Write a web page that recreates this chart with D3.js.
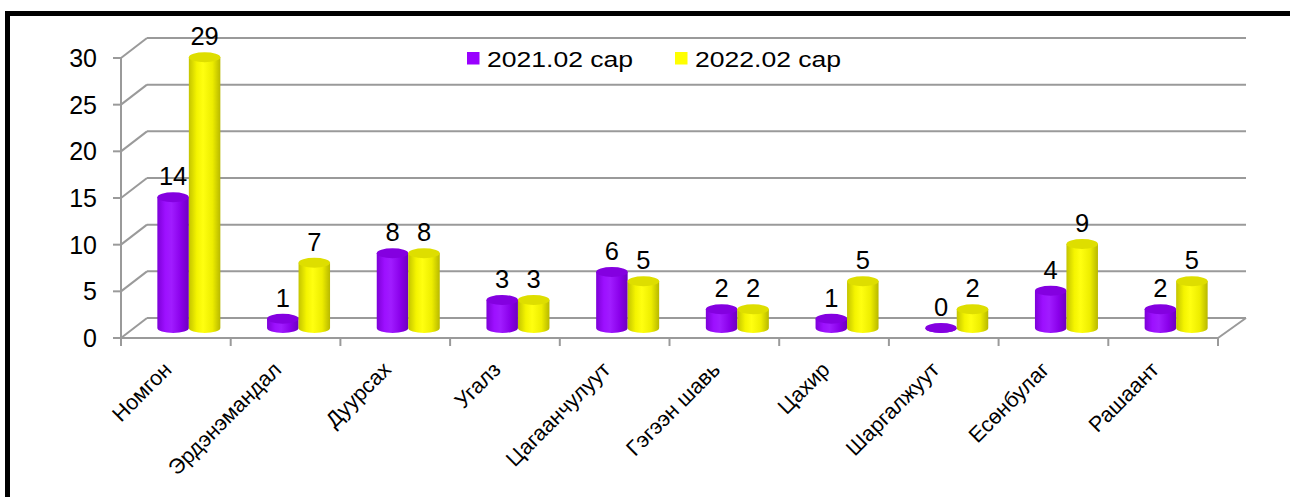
<!DOCTYPE html>
<html>
<head>
<meta charset="utf-8">
<script src="https://cdn.jsdelivr.net/npm/d3@7"></script>
<style>
  body { margin: 0; background: #fff; }
  text { font-family: Arial, "Liberation Sans", sans-serif; fill: #000; }
</style>
</head>
<body>
<div id="chart"></div>
<script>
(function(){
    //data
    var categories = ['Номгон', 'Эрдэнэмандал', 'Дуурсах', 'Угалз', 'Цагаанчулуут',
		      'Гэгээн шавь', 'Цахир', 'Шаргалжуут', 'Есөнбулаг', 'Рашаант'];
    var series_names = ['2021.02 сар', '2022.02 сар'];
    var values_2021 = [14, 1, 8, 3, 6, 2, 1, 0, 4, 2];
    var values_2022 = [29, 7, 8, 3, 5, 2, 5, 2, 9, 5];
    var y_ticks = [0, 5, 10, 15, 20, 25, 30];

    var width = 1290, height = 497;
    var depth_x = 26, depth_y = -20;   // front plane -> back wall
    var ry = 5;                         // cylinder cap radius (y)
    var grid_color = '#9a9a9a';

    var series = [
	{name : series_names[0], values : values_2021,
	 stops : ['#7d00d8', '#9d10ff', '#a01cff', '#8a00ea', '#6e00c0'], cap : '#8400e0', key : '#9900ff'},
	{name : series_names[1], values : values_2022,
	 stops : ['#c4c400', '#f4f400', '#ffff10', '#eded00', '#b8b800'], cap : '#dede00', key : '#ffff00'}
    ];

    var svg = d3.select('#chart').append('svg')
	.attr('width', width)
	.attr('height', height);

    //scales (front plane)
    var x = d3.scaleBand().domain(categories).range([121, 1218]).padding(0);
    var y = d3.scaleLinear().domain([0, 30]).range([338, 58]);
    var xs = d3.scaleBand().domain(series_names).range([-31.5, 31.5]).padding(0);

    //gradients
    var defs = svg.append('defs');
    var grad = defs.selectAll('linearGradient').data(series).enter()
	.append('linearGradient')
	.attr('id', function(d, i){ return 'cyl' + i; })
	.attr('x1', 0).attr('x2', 1).attr('y1', 0).attr('y2', 0);
    grad.selectAll('stop').data(function(d){ return d.stops; }).enter()
	.append('stop')
	.attr('offset', function(d, i){ return [0, 0.25, 0.45, 0.75, 1][i]; })
	.attr('stop-color', function(d){ return d; });

    //walls
    var walls = svg.append('g')
	.attr('fill', 'none')
	.attr('stroke', grid_color)
	.attr('stroke-width', 2);
    // back wall gridlines
    walls.selectAll('line.grid').data(y_ticks).enter().append('line')
	.attr('class', 'grid')
	.attr('x1', x.range()[0] + depth_x).attr('x2', x.range()[1] + depth_x + 2)
	.attr('y1', function(d){ return y(d) + depth_y; })
	.attr('y2', function(d){ return y(d) + depth_y; });
    // side wall diagonals
    walls.selectAll('line.side').data(y_ticks).enter().append('line')
	.attr('class', 'side')
	.attr('x1', x.range()[0]).attr('x2', x.range()[0] + depth_x)
	.attr('y1', function(d){ return y(d); })
	.attr('y2', function(d){ return y(d) + depth_y; });
    // y axis + ticks
    walls.append('line')
	.attr('x1', x.range()[0]).attr('x2', x.range()[0])
	.attr('y1', y(30)).attr('y2', y(0));
    walls.selectAll('line.ytick').data(y_ticks).enter().append('line')
	.attr('class', 'ytick')
	.attr('x1', x.range()[0] - 8).attr('x2', x.range()[0])
	.attr('y1', function(d){ return y(d); })
	.attr('y2', function(d){ return y(d); });
    // floor front edge, right edge, x ticks
    walls.append('line')
	.attr('x1', x.range()[0]).attr('x2', x.range()[1])
	.attr('y1', y(0)).attr('y2', y(0));
    walls.append('line')
	.attr('x1', x.range()[1]).attr('x2', x.range()[1] + depth_x + 2)
	.attr('y1', y(0)).attr('y2', y(0) + depth_y);
    var bounds = categories.map(function(c){ return x(c); }).concat([x.range()[1]]);
    walls.selectAll('line.xtick').data(bounds).enter().append('line')
	.attr('class', 'xtick')
	.attr('x1', function(d){ return d; }).attr('x2', function(d){ return d; })
	.attr('y1', y(0)).attr('y2', y(0) + 8);

    //y tick labels
    svg.append('g').selectAll('text').data(y_ticks).enter().append('text')
	.attr('x', 97)
	.attr('y', function(d){ return y(d); })
	.attr('dy', '0.36em')
	.attr('text-anchor', 'end')
	.style('font-size', '25px')
	.text(function(d){ return d; });

    //category labels
    svg.append('g').selectAll('text').data(categories).enter().append('text')
	.attr('text-anchor', 'end')
	.attr('transform', function(d){
	    return 'translate(' + (x(d) + x.bandwidth() / 2 - 3) + ',371) rotate(-45)';
	})
	.style('font-size', '21.5px')
	.text(function(d){ return d; });

    //cylinders
    var mid_x = depth_x / 2, mid_y = depth_y / 2;
    var base = y(0) + mid_y;
    series.forEach(function(s, si){
	var g = svg.append('g');
	var items = categories.map(function(c, i){
	    var left = x(c) + x.bandwidth() / 2 + mid_x + xs(s.name);
	    return {v : s.values[i], left : left, w : xs.bandwidth(), top : y(s.values[i]) + mid_y};
	});
	var cyl = g.selectAll('g').data(items).enter().append('g');
	cyl.append('path')
	    .attr('fill', 'url(#cyl' + si + ')')
	    .attr('d', function(d){
		var r = d.w / 2;
		return 'M' + d.left + ',' + d.top +
		    'L' + d.left + ',' + base +
		    'A' + r + ',' + ry + ' 0 0 0 ' + (d.left + d.w) + ',' + base +
		    'L' + (d.left + d.w) + ',' + d.top + 'Z';
	    });
	cyl.append('ellipse')
	    .attr('cx', function(d){ return d.left + d.w / 2; })
	    .attr('cy', function(d){ return d.top; })
	    .attr('rx', function(d){ return d.w / 2; })
	    .attr('ry', ry)
	    .attr('fill', s.cap);
	cyl.append('text')
	    .attr('x', function(d){ return d.left + d.w / 2; })
	    .attr('y', function(d){ return d.top - 12; })
	    .attr('text-anchor', 'middle')
	    .style('font-size', '25.5px')
	    .text(function(d){ return d.v; });
    });

    //legend
    var legend = svg.append('g');
    var legend_x = [467, 675];
    var item = legend.selectAll('g').data(series).enter().append('g')
	.attr('transform', function(d, i){ return 'translate(' + legend_x[i] + ',52)'; });
    item.append('rect')
	.attr('width', 12.5).attr('height', 12.5)
	.attr('fill', function(d){ return d.key; });
    item.append('text')
	.attr('transform', 'translate(20,15) scale(1.18,1)')
	.style('font-size', '22.5px')
	.text(function(d){ return d.name; });

    //frame
    svg.append('rect')
	.attr('x', 7.5).attr('y', 13.5)
	.attr('width', 1400).attr('height', 600)
	.attr('fill', 'none')
	.attr('stroke', '#000')
	.attr('stroke-width', 5);
})();
</script>
</body>
</html>
